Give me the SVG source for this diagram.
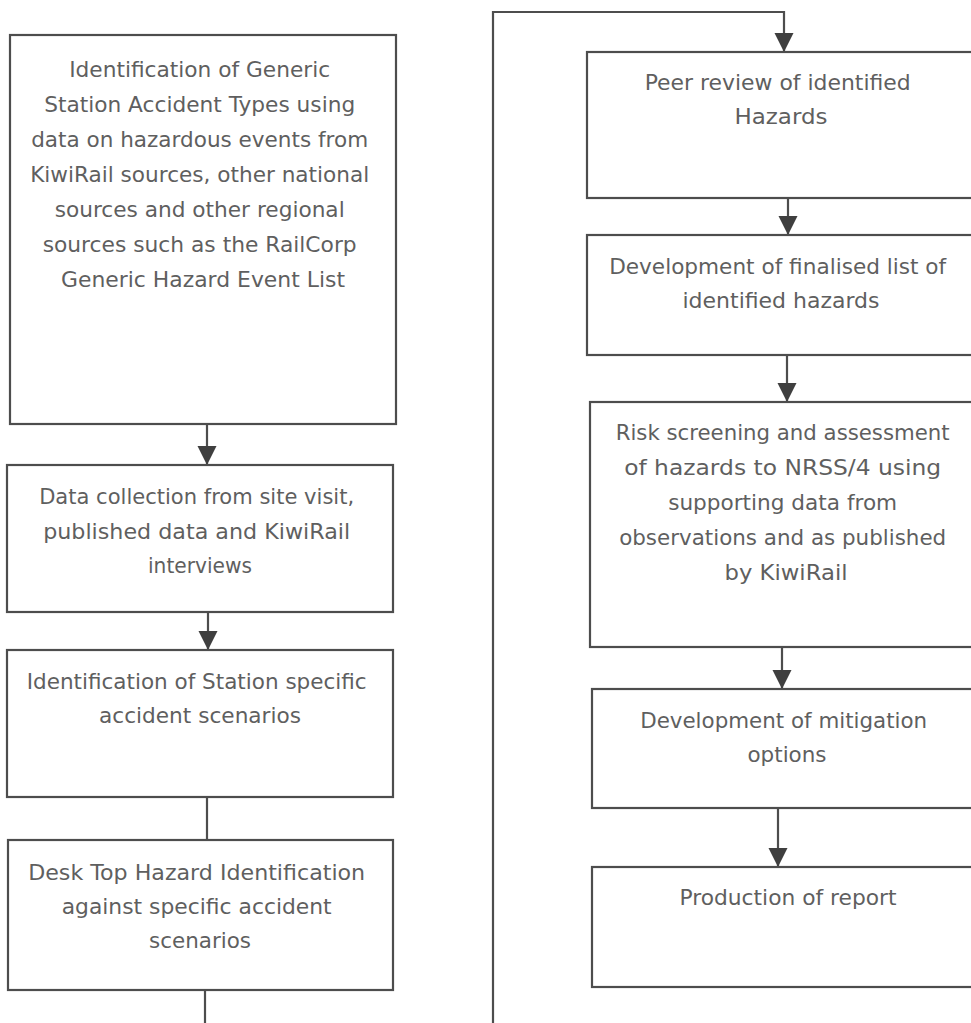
<svg xmlns="http://www.w3.org/2000/svg" width="971" height="1023" viewBox="0 0 971 1023">
  <defs>
    <style>
      .box { fill: #ffffff; stroke: #4d4d4d; stroke-width: 2.2; }
      .lbl { font-family: "DejaVu Sans", "Liberation Sans", sans-serif; font-size: 21px; fill: #5f5f5f; text-anchor: middle; }
      .conn { fill: none; stroke: #4d4d4d; stroke-width: 2.2; }
    </style>
    <marker id="arr" markerUnits="userSpaceOnUse" markerWidth="20" markerHeight="20" refX="9" refY="18" orient="0" viewBox="0 0 18 19">
      <path d="M0,0 L18,0 L9,18 Z" fill="#3f3f3f"/>
    </marker>
  </defs>
  <rect x="0" y="0" width="971" height="1023" fill="#ffffff"/>

  <g id="connectors">
    <path class="conn" d="M207,424 V465" marker-end="url(#arr)"/>
    <path class="conn" d="M208,612 V650" marker-end="url(#arr)"/>
    <path class="conn" d="M207,797 V840"/>
    <path class="conn" d="M205,990 V1023"/>
    <path class="conn" d="M493,1023 V12 H784 V52" marker-end="url(#arr)"/>
    <path class="conn" d="M788,198 V235" marker-end="url(#arr)"/>
    <path class="conn" d="M787,355 V402" marker-end="url(#arr)"/>
    <path class="conn" d="M782,647 V689" marker-end="url(#arr)"/>
    <path class="conn" d="M778,808 V867" marker-end="url(#arr)"/>
  </g>

  <g id="generic-types">
    <rect class="box" x="10" y="35" width="386" height="389"/>
    <text class="lbl">
      <tspan x="203" y="77" textLength="261" lengthAdjust="spacingAndGlyphs">Identification of Generic</tspan>
      <tspan x="203" y="112" textLength="311" lengthAdjust="spacingAndGlyphs">Station Accident Types using</tspan>
      <tspan x="203" y="147" textLength="337" lengthAdjust="spacingAndGlyphs">data on hazardous events from</tspan>
      <tspan x="203" y="182" textLength="339" lengthAdjust="spacingAndGlyphs">KiwiRail sources, other national</tspan>
      <tspan x="203" y="217" textLength="290" lengthAdjust="spacingAndGlyphs">sources and other regional</tspan>
      <tspan x="203" y="252" textLength="314" lengthAdjust="spacingAndGlyphs">sources such as the RailCorp</tspan>
      <tspan x="203" y="287" textLength="284" lengthAdjust="spacingAndGlyphs">Generic Hazard Event List</tspan>
    </text>
  </g>

  <g id="data-collection">
    <rect class="box" x="7" y="465" width="386" height="147"/>
    <text class="lbl">
      <tspan x="200" y="504" textLength="315" lengthAdjust="spacingAndGlyphs">Data collection from site visit,</tspan>
      <tspan x="200" y="539" textLength="307" lengthAdjust="spacingAndGlyphs">published data and KiwiRail</tspan>
      <tspan x="200" y="573" textLength="104" lengthAdjust="spacingAndGlyphs">interviews</tspan>
    </text>
  </g>

  <g id="station-scenarios">
    <rect class="box" x="7" y="650" width="386" height="147"/>
    <text class="lbl">
      <tspan x="200" y="689" textLength="340" lengthAdjust="spacingAndGlyphs">Identification of Station specific</tspan>
      <tspan x="200" y="723" textLength="202" lengthAdjust="spacingAndGlyphs">accident scenarios</tspan>
    </text>
  </g>

  <g id="desk-top">
    <rect class="box" x="8" y="840" width="385" height="150"/>
    <text class="lbl">
      <tspan x="200" y="880" textLength="337" lengthAdjust="spacingAndGlyphs">Desk Top Hazard Identification</tspan>
      <tspan x="200" y="914" textLength="270" lengthAdjust="spacingAndGlyphs">against specific accident</tspan>
      <tspan x="200" y="948" textLength="102" lengthAdjust="spacingAndGlyphs">scenarios</tspan>
    </text>
  </g>

  <g id="peer-review">
    <rect class="box" x="587" y="52" width="400" height="146"/>
    <text class="lbl">
      <tspan x="781" y="90" textLength="266" lengthAdjust="spacingAndGlyphs">Peer review of identified</tspan>
      <tspan x="781" y="124" textLength="93" lengthAdjust="spacingAndGlyphs">Hazards</tspan>
    </text>
  </g>

  <g id="finalised-list">
    <rect class="box" x="587" y="235" width="400" height="120"/>
    <text class="lbl">
      <tspan x="781" y="274" textLength="337" lengthAdjust="spacingAndGlyphs">Development of finalised list of</tspan>
      <tspan x="781" y="308" textLength="197" lengthAdjust="spacingAndGlyphs">identified hazards</tspan>
    </text>
  </g>

  <g id="risk-screening">
    <rect class="box" x="590" y="402" width="400" height="245"/>
    <text class="lbl">
      <tspan x="786" y="440" textLength="334" lengthAdjust="spacingAndGlyphs">Risk screening and assessment</tspan>
      <tspan x="786" y="475" textLength="317" lengthAdjust="spacingAndGlyphs">of hazards to NRSS/4 using</tspan>
      <tspan x="786" y="510" textLength="229" lengthAdjust="spacingAndGlyphs">supporting data from</tspan>
      <tspan x="786" y="545" textLength="327" lengthAdjust="spacingAndGlyphs">observations and as published</tspan>
      <tspan x="786" y="580" textLength="123" lengthAdjust="spacingAndGlyphs">by KiwiRail</tspan>
    </text>
  </g>

  <g id="mitigation">
    <rect class="box" x="592" y="689" width="400" height="119"/>
    <text class="lbl">
      <tspan x="787" y="728" textLength="287" lengthAdjust="spacingAndGlyphs">Development of mitigation</tspan>
      <tspan x="787" y="762" textLength="79" lengthAdjust="spacingAndGlyphs">options</tspan>
    </text>
  </g>

  <g id="report">
    <rect class="box" x="592" y="867" width="400" height="120"/>
    <text class="lbl">
      <tspan x="788" y="905" textLength="217" lengthAdjust="spacingAndGlyphs">Production of report</tspan>
    </text>
  </g>
</svg>
